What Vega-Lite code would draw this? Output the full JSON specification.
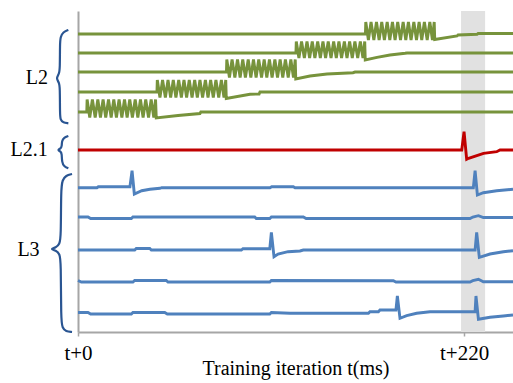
{
  "$schema": "https://vega.github.io/schema/vega-lite/v6.json",
  "width": 435,
  "height": 321,
  "autosize": {"type": "none"},
  "padding": {"left": 78, "top": 11, "right": 0, "bottom": 51},
  "background": "white",
  "config": {"view": {"stroke": null}},
  "datasets": {
    "band": [{"t0": 218.3, "t1": 232.0}],
    "labels": [
      {"label": "L2", "t": -23.4, "v": 254},
      {"label": "L2.1", "t": -27.9, "v": 182},
      {"label": "L3", "t": -28.2, "v": 82}
    ],
    "braces": [
      {"b": "L2", "t": -5.5, "v": 302}, {"b": "L2", "t": -8.5, "v": 300}, {"b": "L2", "t": -10.0, "v": 295}, {"b": "L2", "t": -10.3, "v": 288}, {"b": "L2", "t": -10.3, "v": 263}, {"b": "L2", "t": -10.8, "v": 258}, {"b": "L2", "t": -12.5, "v": 253.7}, {"b": "L2", "t": -10.8, "v": 249.5}, {"b": "L2", "t": -10.3, "v": 245}, {"b": "L2", "t": -10.3, "v": 218}, {"b": "L2", "t": -10.0, "v": 212}, {"b": "L2", "t": -8.5, "v": 209.5}, {"b": "L2", "t": -5.5, "v": 208.7},
      {"b": "L21", "t": -5.5, "v": 196}, {"b": "L21", "t": -8.0, "v": 194.5}, {"b": "L21", "t": -9.2, "v": 191}, {"b": "L21", "t": -9.2, "v": 186}, {"b": "L21", "t": -9.8, "v": 183.5}, {"b": "L21", "t": -11.8, "v": 182}, {"b": "L21", "t": -9.8, "v": 180.5}, {"b": "L21", "t": -9.2, "v": 178}, {"b": "L21", "t": -9.2, "v": 170}, {"b": "L21", "t": -8.0, "v": 165.5}, {"b": "L21", "t": -5.5, "v": 163.7},
      {"b": "L3", "t": -3.4, "v": 158}, {"b": "L3", "t": -6.9, "v": 156.5}, {"b": "L3", "t": -8.9, "v": 152}, {"b": "L3", "t": -9.7, "v": 143}, {"b": "L3", "t": -9.7, "v": 95}, {"b": "L3", "t": -10.5, "v": 88}, {"b": "L3", "t": -12.5, "v": 84.5}, {"b": "L3", "t": -16.0, "v": 83}, {"b": "L3", "t": -12.5, "v": 81.5}, {"b": "L3", "t": -10.5, "v": 78}, {"b": "L3", "t": -9.7, "v": 71}, {"b": "L3", "t": -9.7, "v": 12}, {"b": "L3", "t": -8.9, "v": 4}, {"b": "L3", "t": -6.9, "v": 0.5}, {"b": "L3", "t": -3.4, "v": 0}
    ],
    "lines": [
      {"s": "G1", "t": 0, "v": 298}, {"s": "G1", "t": 163.8, "v": 298}, {"s": "G1", "t": 164.0, "v": 310}, {"s": "G1", "t": 165.5, "v": 292}, {"s": "G1", "t": 167.0, "v": 310}, {"s": "G1", "t": 168.6, "v": 292}, {"s": "G1", "t": 170.1, "v": 310}, {"s": "G1", "t": 171.6, "v": 292}, {"s": "G1", "t": 173.1, "v": 310}, {"s": "G1", "t": 174.6, "v": 292}, {"s": "G1", "t": 176.2, "v": 310}, {"s": "G1", "t": 177.7, "v": 292}, {"s": "G1", "t": 179.2, "v": 310}, {"s": "G1", "t": 180.7, "v": 292}, {"s": "G1", "t": 182.2, "v": 310}, {"s": "G1", "t": 183.8, "v": 292}, {"s": "G1", "t": 185.3, "v": 310}, {"s": "G1", "t": 186.8, "v": 292}, {"s": "G1", "t": 188.3, "v": 310}, {"s": "G1", "t": 189.8, "v": 292}, {"s": "G1", "t": 191.4, "v": 310}, {"s": "G1", "t": 192.9, "v": 292}, {"s": "G1", "t": 194.4, "v": 310}, {"s": "G1", "t": 195.9, "v": 292}, {"s": "G1", "t": 197.4, "v": 310}, {"s": "G1", "t": 199.0, "v": 292}, {"s": "G1", "t": 200.5, "v": 310}, {"s": "G1", "t": 202.0, "v": 292}, {"s": "G1", "t": 203.0, "v": 310}, {"s": "G1", "t": 203.3, "v": 292.5}, {"s": "G1", "t": 216, "v": 296}, {"s": "G1", "t": 216.6, "v": 297}, {"s": "G1", "t": 227.4, "v": 297.7}, {"s": "G1", "t": 228, "v": 298.5}, {"s": "G1", "t": 247.9, "v": 298.5},
      {"s": "G2", "t": 0, "v": 279}, {"s": "G2", "t": 124.2, "v": 279}, {"s": "G2", "t": 124.4, "v": 290.5}, {"s": "G2", "t": 125.9, "v": 274}, {"s": "G2", "t": 127.4, "v": 290.5}, {"s": "G2", "t": 129.0, "v": 274}, {"s": "G2", "t": 130.5, "v": 290.5}, {"s": "G2", "t": 132.0, "v": 274}, {"s": "G2", "t": 133.5, "v": 290.5}, {"s": "G2", "t": 135.0, "v": 274}, {"s": "G2", "t": 136.6, "v": 290.5}, {"s": "G2", "t": 138.1, "v": 274}, {"s": "G2", "t": 139.6, "v": 290.5}, {"s": "G2", "t": 141.1, "v": 274}, {"s": "G2", "t": 142.6, "v": 290.5}, {"s": "G2", "t": 144.2, "v": 274}, {"s": "G2", "t": 145.7, "v": 290.5}, {"s": "G2", "t": 147.2, "v": 274}, {"s": "G2", "t": 148.7, "v": 290.5}, {"s": "G2", "t": 150.2, "v": 274}, {"s": "G2", "t": 151.8, "v": 290.5}, {"s": "G2", "t": 153.3, "v": 274}, {"s": "G2", "t": 154.8, "v": 290.5}, {"s": "G2", "t": 156.3, "v": 274}, {"s": "G2", "t": 157.8, "v": 290.5}, {"s": "G2", "t": 159.4, "v": 274}, {"s": "G2", "t": 160.9, "v": 290.5}, {"s": "G2", "t": 162.4, "v": 274}, {"s": "G2", "t": 163.4, "v": 290.5}, {"s": "G2", "t": 163.7, "v": 272}, {"s": "G2", "t": 170.4, "v": 274.7}, {"s": "G2", "t": 177.8, "v": 277}, {"s": "G2", "t": 186.4, "v": 278.7}, {"s": "G2", "t": 187.5, "v": 279}, {"s": "G2", "t": 247.9, "v": 279},
      {"s": "G3", "t": 0, "v": 260}, {"s": "G3", "t": 84.6, "v": 260}, {"s": "G3", "t": 84.8, "v": 272.5}, {"s": "G3", "t": 86.3, "v": 254.5}, {"s": "G3", "t": 87.8, "v": 272.5}, {"s": "G3", "t": 89.4, "v": 254.5}, {"s": "G3", "t": 90.9, "v": 272.5}, {"s": "G3", "t": 92.4, "v": 254.5}, {"s": "G3", "t": 93.9, "v": 272.5}, {"s": "G3", "t": 95.4, "v": 254.5}, {"s": "G3", "t": 97.0, "v": 272.5}, {"s": "G3", "t": 98.5, "v": 254.5}, {"s": "G3", "t": 100.0, "v": 272.5}, {"s": "G3", "t": 101.5, "v": 254.5}, {"s": "G3", "t": 103.0, "v": 272.5}, {"s": "G3", "t": 104.6, "v": 254.5}, {"s": "G3", "t": 106.1, "v": 272.5}, {"s": "G3", "t": 107.6, "v": 254.5}, {"s": "G3", "t": 109.1, "v": 272.5}, {"s": "G3", "t": 110.6, "v": 254.5}, {"s": "G3", "t": 112.2, "v": 272.5}, {"s": "G3", "t": 113.7, "v": 254.5}, {"s": "G3", "t": 115.2, "v": 272.5}, {"s": "G3", "t": 116.7, "v": 254.5}, {"s": "G3", "t": 118.2, "v": 272.5}, {"s": "G3", "t": 119.8, "v": 254.5}, {"s": "G3", "t": 121.3, "v": 272.5}, {"s": "G3", "t": 122.8, "v": 254.5}, {"s": "G3", "t": 123.8, "v": 272.5}, {"s": "G3", "t": 124.1, "v": 253}, {"s": "G3", "t": 132.2, "v": 256}, {"s": "G3", "t": 141.9, "v": 258}, {"s": "G3", "t": 156.7, "v": 259.3}, {"s": "G3", "t": 157.9, "v": 260}, {"s": "G3", "t": 247.9, "v": 260},
      {"s": "G4", "t": 0, "v": 240}, {"s": "G4", "t": 45.0, "v": 240}, {"s": "G4", "t": 45.2, "v": 252}, {"s": "G4", "t": 46.7, "v": 234.5}, {"s": "G4", "t": 48.2, "v": 252}, {"s": "G4", "t": 49.8, "v": 234.5}, {"s": "G4", "t": 51.3, "v": 252}, {"s": "G4", "t": 52.8, "v": 234.5}, {"s": "G4", "t": 54.3, "v": 252}, {"s": "G4", "t": 55.8, "v": 234.5}, {"s": "G4", "t": 57.4, "v": 252}, {"s": "G4", "t": 58.9, "v": 234.5}, {"s": "G4", "t": 60.4, "v": 252}, {"s": "G4", "t": 61.9, "v": 234.5}, {"s": "G4", "t": 63.4, "v": 252}, {"s": "G4", "t": 65.0, "v": 234.5}, {"s": "G4", "t": 66.5, "v": 252}, {"s": "G4", "t": 68.0, "v": 234.5}, {"s": "G4", "t": 69.5, "v": 252}, {"s": "G4", "t": 71.0, "v": 234.5}, {"s": "G4", "t": 72.6, "v": 252}, {"s": "G4", "t": 74.1, "v": 234.5}, {"s": "G4", "t": 75.6, "v": 252}, {"s": "G4", "t": 77.1, "v": 234.5}, {"s": "G4", "t": 78.6, "v": 252}, {"s": "G4", "t": 80.2, "v": 234.5}, {"s": "G4", "t": 81.7, "v": 252}, {"s": "G4", "t": 83.2, "v": 234.5}, {"s": "G4", "t": 84.2, "v": 252}, {"s": "G4", "t": 84.5, "v": 233.5}, {"s": "G4", "t": 98, "v": 237.7}, {"s": "G4", "t": 103.2, "v": 238}, {"s": "G4", "t": 103.7, "v": 240}, {"s": "G4", "t": 247.9, "v": 240},
      {"s": "G5", "t": 0, "v": 220}, {"s": "G5", "t": 5.0, "v": 220}, {"s": "G5", "t": 5.2, "v": 232.5}, {"s": "G5", "t": 6.7, "v": 214.5}, {"s": "G5", "t": 8.2, "v": 232.5}, {"s": "G5", "t": 9.8, "v": 214.5}, {"s": "G5", "t": 11.3, "v": 232.5}, {"s": "G5", "t": 12.8, "v": 214.5}, {"s": "G5", "t": 14.3, "v": 232.5}, {"s": "G5", "t": 15.8, "v": 214.5}, {"s": "G5", "t": 17.4, "v": 232.5}, {"s": "G5", "t": 18.9, "v": 214.5}, {"s": "G5", "t": 20.4, "v": 232.5}, {"s": "G5", "t": 21.9, "v": 214.5}, {"s": "G5", "t": 23.4, "v": 232.5}, {"s": "G5", "t": 25.0, "v": 214.5}, {"s": "G5", "t": 26.5, "v": 232.5}, {"s": "G5", "t": 28.0, "v": 214.5}, {"s": "G5", "t": 29.5, "v": 232.5}, {"s": "G5", "t": 31.0, "v": 214.5}, {"s": "G5", "t": 32.6, "v": 232.5}, {"s": "G5", "t": 34.1, "v": 214.5}, {"s": "G5", "t": 35.6, "v": 232.5}, {"s": "G5", "t": 37.1, "v": 214.5}, {"s": "G5", "t": 38.6, "v": 232.5}, {"s": "G5", "t": 40.2, "v": 214.5}, {"s": "G5", "t": 41.7, "v": 232.5}, {"s": "G5", "t": 43.2, "v": 214.5}, {"s": "G5", "t": 44.2, "v": 232.5}, {"s": "G5", "t": 44.6, "v": 214}, {"s": "G5", "t": 57, "v": 216.5}, {"s": "G5", "t": 69.5, "v": 218.5}, {"s": "G5", "t": 70, "v": 220}, {"s": "G5", "t": 247.9, "v": 220},
      {"s": "R", "t": 0, "v": 182}, {"s": "R", "t": 218.7, "v": 182}, {"s": "R", "t": 220.0, "v": 200.3}, {"s": "R", "t": 221.5, "v": 172.7}, {"s": "R", "t": 222.6, "v": 173.7}, {"s": "R", "t": 231.1, "v": 178.7}, {"s": "R", "t": 238.6, "v": 180.3}, {"s": "R", "t": 240.5, "v": 182}, {"s": "R", "t": 247.9, "v": 182},
      {"s": "B1", "t": 0, "v": 144.3}, {"s": "B1", "t": 10.8, "v": 144.3}, {"s": "B1", "t": 11.6, "v": 145.3}, {"s": "B1", "t": 29.6, "v": 145.3}, {"s": "B1", "t": 30.8, "v": 161.3}, {"s": "B1", "t": 32.1, "v": 138}, {"s": "B1", "t": 36.3, "v": 141.3}, {"s": "B1", "t": 41.0, "v": 142.7}, {"s": "B1", "t": 46.7, "v": 143.7}, {"s": "B1", "t": 47.7, "v": 144.3}, {"s": "B1", "t": 109.4, "v": 144.3}, {"s": "B1", "t": 110.4, "v": 145.3}, {"s": "B1", "t": 122.7, "v": 145.3}, {"s": "B1", "t": 123.7, "v": 144.3}, {"s": "B1", "t": 225.3, "v": 144.3}, {"s": "B1", "t": 226.3, "v": 161.3}, {"s": "B1", "t": 227.6, "v": 137}, {"s": "B1", "t": 231.0, "v": 139.3}, {"s": "B1", "t": 238.6, "v": 141.3}, {"s": "B1", "t": 247.9, "v": 142.7},
      {"s": "B2", "t": 0, "v": 115}, {"s": "B2", "t": 5.7, "v": 115}, {"s": "B2", "t": 7.2, "v": 113.5}, {"s": "B2", "t": 30.4, "v": 113.5}, {"s": "B2", "t": 31.3, "v": 115}, {"s": "B2", "t": 100.7, "v": 115}, {"s": "B2", "t": 101.6, "v": 113.5}, {"s": "B2", "t": 109.3, "v": 113.5}, {"s": "B2", "t": 110.2, "v": 115}, {"s": "B2", "t": 128.4, "v": 115}, {"s": "B2", "t": 130.0, "v": 113.5}, {"s": "B2", "t": 223.4, "v": 113.5}, {"s": "B2", "t": 225.0, "v": 115}, {"s": "B2", "t": 228.2, "v": 116.3}, {"s": "B2", "t": 231.0, "v": 114.5}, {"s": "B2", "t": 247.9, "v": 114.5},
      {"s": "B3", "t": 0, "v": 82}, {"s": "B3", "t": 32.3, "v": 82}, {"s": "B3", "t": 33.2, "v": 83.5}, {"s": "B3", "t": 40.9, "v": 83.5}, {"s": "B3", "t": 41.8, "v": 82}, {"s": "B3", "t": 93.1, "v": 82}, {"s": "B3", "t": 94.0, "v": 83.3}, {"s": "B3", "t": 109.3, "v": 83.3}, {"s": "B3", "t": 110.2, "v": 99.7}, {"s": "B3", "t": 111.7, "v": 75.3}, {"s": "B3", "t": 114.0, "v": 78}, {"s": "B3", "t": 119.7, "v": 80.3}, {"s": "B3", "t": 126.5, "v": 81}, {"s": "B3", "t": 128.4, "v": 82}, {"s": "B3", "t": 226.3, "v": 82}, {"s": "B3", "t": 227.2, "v": 99.7}, {"s": "B3", "t": 228.7, "v": 74.7}, {"s": "B3", "t": 234.8, "v": 78}, {"s": "B3", "t": 242.4, "v": 80.3}, {"s": "B3", "t": 247.9, "v": 81.3},
      {"s": "B4", "t": 0, "v": 51.5}, {"s": "B4", "t": 1.9, "v": 50}, {"s": "B4", "t": 31.3, "v": 50}, {"s": "B4", "t": 32.3, "v": 51.5}, {"s": "B4", "t": 50.3, "v": 51.5}, {"s": "B4", "t": 51.3, "v": 50}, {"s": "B4", "t": 109.3, "v": 50}, {"s": "B4", "t": 110.2, "v": 51.5}, {"s": "B4", "t": 179.7, "v": 51.3}, {"s": "B4", "t": 181.2, "v": 50}, {"s": "B4", "t": 223.4, "v": 50}, {"s": "B4", "t": 225.0, "v": 51.3}, {"s": "B4", "t": 228.2, "v": 52.7}, {"s": "B4", "t": 231.0, "v": 50.3}, {"s": "B4", "t": 247.9, "v": 50.3},
      {"s": "B5", "t": 0, "v": 19.5}, {"s": "B5", "t": 5.7, "v": 19.5}, {"s": "B5", "t": 7.2, "v": 18}, {"s": "B5", "t": 30.4, "v": 18}, {"s": "B5", "t": 31.3, "v": 19.5}, {"s": "B5", "t": 49.4, "v": 19.5}, {"s": "B5", "t": 50.9, "v": 18}, {"s": "B5", "t": 109.3, "v": 18}, {"s": "B5", "t": 110.2, "v": 19.5}, {"s": "B5", "t": 120.8, "v": 18.7}, {"s": "B5", "t": 165.5, "v": 18.7}, {"s": "B5", "t": 166.4, "v": 20.3}, {"s": "B5", "t": 171.2, "v": 20.3}, {"s": "B5", "t": 172.1, "v": 22}, {"s": "B5", "t": 181.2, "v": 22}, {"s": "B5", "t": 182.0, "v": 36}, {"s": "B5", "t": 183.5, "v": 13.7}, {"s": "B5", "t": 187.3, "v": 16.3}, {"s": "B5", "t": 193.0, "v": 18.7}, {"s": "B5", "t": 200.6, "v": 20.3}, {"s": "B5", "t": 226.3, "v": 20.3}, {"s": "B5", "t": 226.8, "v": 36}, {"s": "B5", "t": 228.2, "v": 12.7}, {"s": "B5", "t": 234.8, "v": 14.7}, {"s": "B5", "t": 242.4, "v": 16}, {"s": "B5", "t": 247.9, "v": 17}
    ]
  },
  "layer": [
    {
      "data": {"name": "band"},
      "mark": {"type": "rect", "color": "#e1e1e1"},
      "encoding": {
        "x": {"field": "t0", "type": "quantitative", "scale": {"domain": [0, 247.9], "nice": false, "zero": false},
          "axis": {"values": [0, 220], "labelExpr": "'t+' + datum.value", "grid": false, "domainColor": "#a6a6a6", "domainWidth": 2, "tickColor": "#a6a6a6", "tickSize": 4, "tickWidth": 1.5, "labelFont": "Liberation Serif", "labelFontSize": 21, "labelColor": "#000000", "labelPadding": 6, "labelDx": 5, "labelFlush": false, "title": "Training iteration t(ms)", "titleFont": "Liberation Serif", "titleFontSize": 20, "titleFontWeight": "normal", "titleColor": "#000000", "titlePadding": -5}},
        "x2": {"field": "t1"}
      }
    },
    {
      "data": {"name": "lines"},
      "mark": {"type": "line", "strokeWidth": 2.9, "strokeJoin": "miter"},
      "encoding": {
        "x": {"field": "t", "type": "quantitative"},
        "y": {"field": "v", "type": "quantitative", "scale": {"domain": [0, 321], "nice": false, "zero": false},
          "axis": {"labels": false, "ticks": false, "grid": false, "title": null, "domainColor": "#a6a6a6", "domainWidth": 2}},
        "color": {"field": "s", "type": "nominal", "legend": null,
          "scale": {"domain": ["G1", "G2", "G3", "G4", "G5", "R", "B1", "B2", "B3", "B4", "B5"],
            "range": ["#77933c", "#77933c", "#77933c", "#77933c", "#77933c", "#c00000", "#4f81bd", "#4f81bd", "#4f81bd", "#4f81bd", "#4f81bd"]}},
        "order": {"value": null}
      }
    },
    {
      "data": {"name": "braces"},
      "mark": {"type": "line", "strokeWidth": 2.2, "interpolate": "basis", "color": "#2a5592"},
      "encoding": {
        "x": {"field": "t", "type": "quantitative"},
        "y": {"field": "v", "type": "quantitative"},
        "detail": {"field": "b"},
        "order": {"value": null}
      }
    },
    {
      "data": {"name": "labels"},
      "mark": {"type": "text", "font": "Liberation Serif", "fontSize": 20, "color": "#000000", "align": "center", "baseline": "middle"},
      "encoding": {
        "x": {"field": "t", "type": "quantitative"},
        "y": {"field": "v", "type": "quantitative"},
        "text": {"field": "label"}
      }
    }
  ]
}
